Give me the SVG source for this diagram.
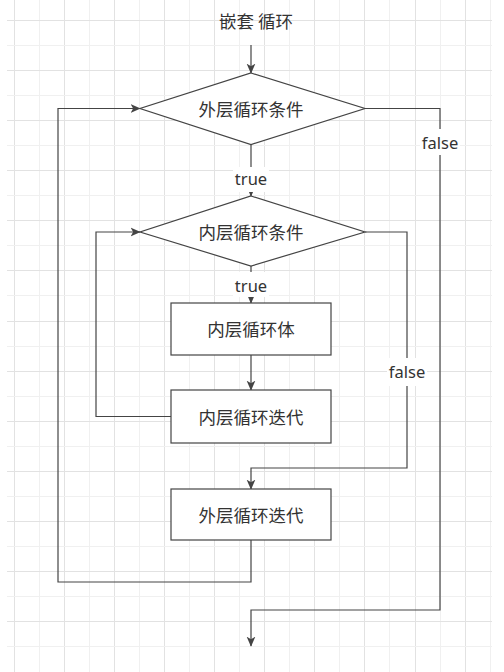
<svg xmlns="http://www.w3.org/2000/svg" width="504" height="672" viewBox="0 0 504 672">
<style>
.gd{stroke:#e2e2e2;stroke-width:1;fill:none}
.gl{stroke:#f0f0f0;stroke-width:1;fill:none}
.shape{fill:#ffffff;stroke:#444444;stroke-width:1.2}
.edge{fill:none;stroke:#444444;stroke-width:1.2}
.cn{font-family:"Noto Sans CJK SC","Noto Sans",sans-serif;font-size:17.5px;fill:#333333;text-anchor:middle;dominant-baseline:central}
.lb{font-family:"Noto Sans","Liberation Sans",sans-serif;font-size:16.5px;fill:#333333;text-anchor:middle}
.bg{fill:#ffffff}
</style>
<defs>
<marker id="arr" markerUnits="userSpaceOnUse" markerWidth="10" markerHeight="10" viewBox="0 0 8 7" refX="7.5" refY="3.5" orient="auto">
<path d="M0,0 L8,3.5 L0,7 L2,3.5 z" fill="#444444"/>
</marker>
</defs>
<rect width="504" height="672" fill="#ffffff"/>
<g id="grid">
<path class="gd" d="M14.5,0V672M64.5,0V672M114.5,0V672M164.5,0V672M214.5,0V672M264.5,0V672M314.5,0V672M364.5,0V672M415.5,0V672M465.5,0V672"/>
<path class="gl" d="M39.5,0V672M89.5,0V672M139.5,0V672M189.5,0V672M239.5,0V672M289.5,0V672M339.5,0V672M389.5,0V672M440.5,0V672M490.5,0V672"/>
<path class="gd" d="M7,20.5H492M7,70.5H492M7,120.5H492M7,170.5H492M7,220.5H492M7,270.5H492M7,321.5H492M7,371.5H492M7,421.5H492M7,471.5H492M7,521.5H492M7,571.5H492M7,621.5H492"/>
<path class="gl" d="M7,45.5H492M7,95.5H492M7,145.5H492M7,195.5H492M7,245.5H492M7,295.5H492M7,346.5H492M7,396.5H492M7,446.5H492M7,496.5H492M7,546.5H492M7,596.5H492M7,646.5H492"/>
</g>
<g id="connectors">
<path class="edge" d="M251,45 L251,73" marker-end="url(#arr)"/>
<path class="edge" d="M251,144.5 L251,196" marker-end="url(#arr)"/>
<path class="edge" d="M251,266 L251,303" marker-end="url(#arr)"/>
<path class="edge" d="M251,355 L251,390" marker-end="url(#arr)"/>
<path class="edge" d="M171,416.5 L96,416.5 L96,232 L140,232" marker-end="url(#arr)"/>
<path class="edge" d="M365,232 L407,232 L407,468 L251,468 L251,489" marker-end="url(#arr)"/>
<path class="edge" d="M251,540 L251,582 L58,582 L58,108.5 L140,108.5" marker-end="url(#arr)"/>
<path class="edge" d="M365,108.5 L440,108.5 L440,610 L251,610 L251,646" marker-end="url(#arr)"/>
<rect class="bg" x="233" y="167" width="36" height="25"/>
<text class="lb" x="251" y="185">true</text>
<rect class="bg" x="233" y="272" width="36" height="25"/>
<text class="lb" x="251" y="292">true</text>
<rect class="bg" x="420" y="129" width="40" height="26"/>
<text class="lb" x="440" y="149">false</text>
<rect class="bg" x="387" y="358" width="40" height="28"/>
<text class="lb" x="407" y="378">false</text>
</g>
<g id="title">
<text class="cn" x="256" y="20.5">嵌套 循环</text>
</g>
<g id="outer-cond">
<polygon class="shape" points="251,73 365,108.5 251,144.5 140,108.5"/>
<text class="cn" x="251" y="108.5">外层循环条件</text>
</g>
<g id="inner-cond">
<polygon class="shape" points="251,196 365,232 251,266 140,232"/>
<text class="cn" x="251" y="231.5">内层循环条件</text>
</g>
<g id="inner-body">
<rect class="shape" x="171" y="303" width="160" height="52"/>
<text class="cn" x="251" y="328.5">内层循环体</text>
</g>
<g id="inner-iter">
<rect class="shape" x="171" y="390" width="160" height="53"/>
<text class="cn" x="251" y="416.5">内层循环迭代</text>
</g>
<g id="outer-iter">
<rect class="shape" x="171" y="489" width="160" height="51"/>
<text class="cn" x="251" y="514.5">外层循环迭代</text>
</g>
</svg>
